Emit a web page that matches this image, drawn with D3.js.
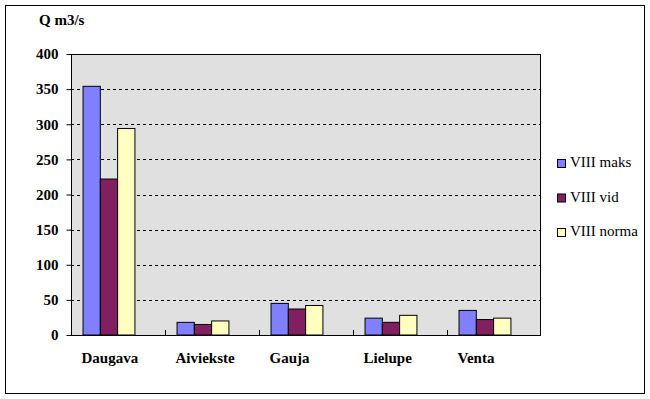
<!DOCTYPE html>
<html>
<head>
<meta charset="utf-8">
<script src="https://cdn.jsdelivr.net/npm/d3@7"></script>
<style>
  body { margin: 0; background: #fff; }
</style>
</head>
<body>
<div class="chart"></div>
<script>
const categories = ['Daugava', 'Aiviekste', 'Gauja', 'Lielupe', 'Venta'];
const seriesNames = ['VIII maks', 'VIII vid', 'VIII norma'];
const maksValues = [354, 18, 45, 24, 35];
const vidValues = [222, 15, 37, 18, 22];
const normaValues = [294, 20, 42, 28, 24];
const yTicks = [0, 50, 100, 150, 200, 250, 300, 350, 400];
const colors = ['#8080ff', '#802060', '#ffffc0'];

const seriesValues = [maksValues, vidValues, normaValues];
const font = "'Liberation Serif', 'Times New Roman', Times, serif";

const w = 650;
const h = 399;
const plot = { left: 71, right: 541, top: 54, bottom: 335 };

const svg = d3.select('.chart')
  .append('svg')
  .attr('width', w)
  .attr('height', h)
  .attr('font-family', font);

// outer frame
svg.append('rect')
  .attr('x', 5.5)
  .attr('y', 5.5)
  .attr('width', 639)
  .attr('height', 388)
  .attr('fill', '#fff')
  .attr('stroke', '#000');

const xScale = d3.scaleBand()
  .domain(categories)
  .range([plot.left, plot.right]);

const xInner = d3.scaleBand()
  .domain(seriesNames)
  .range([xScale.bandwidth() * 0.128, xScale.bandwidth() * 0.68]);

const yScale = d3.scaleLinear()
  .domain([0, 400])
  .range([plot.bottom, plot.top]);

// plot background
svg.append('rect')
  .attr('x', plot.left)
  .attr('y', plot.top)
  .attr('width', plot.right - plot.left)
  .attr('height', plot.bottom - plot.top)
  .attr('fill', '#e0e0e0');

// dashed gridlines
svg.append('g')
  .selectAll('line')
  .data(yTicks.filter((d) => d > 0 && d < 400))
  .enter()
  .append('line')
  .attr('x1', plot.left)
  .attr('x2', plot.right)
  .attr('y1', (d) => Math.round(yScale(d)) + 0.5)
  .attr('y2', (d) => Math.round(yScale(d)) + 0.5)
  .attr('stroke', '#000')
  .attr('stroke-dasharray', '3,3');

// bars
const groups = svg.append('g')
  .selectAll('g')
  .data(categories)
  .enter()
  .append('g')
  .attr('transform', (d) => `translate(${xScale(d)}, 0)`);

groups.selectAll('rect')
  .data((d, i) => seriesNames.map((s, j) => ({ series: s, value: seriesValues[j][i], color: colors[j] })))
  .enter()
  .append('rect')
  .attr('x', (d) => xInner(d.series))
  .attr('y', (d) => yScale(d.value))
  .attr('width', xInner.bandwidth())
  .attr('height', (d) => plot.bottom - yScale(d.value))
  .attr('fill', (d) => d.color)
  .attr('stroke', '#000')
  .attr('stroke-width', 1);

// plot border
svg.append('rect')
  .attr('x', plot.left + 0.5)
  .attr('y', plot.top + 0.5)
  .attr('width', plot.right - plot.left - 1)
  .attr('height', plot.bottom - plot.top)
  .attr('fill', 'none')
  .attr('stroke', '#000');

// y axis
const yAxis = svg.append('g')
  .attr('transform', `translate(${plot.left + 0.5}, 0)`)
  .call(d3.axisLeft(yScale).tickValues(yTicks).tickSize(5).tickPadding(8));
yAxis.attr('font-family', font).attr('font-size', 15).attr('font-weight', 'bold');
yAxis.select('.domain').remove();
yAxis.selectAll('text').attr('fill', '#000');

// x axis (ticks inside between categories)
svg.append('g')
  .selectAll('line')
  .data(categories.slice(1))
  .enter()
  .append('line')
  .attr('x1', (d) => Math.round(xScale(d)) + 0.5)
  .attr('x2', (d) => Math.round(xScale(d)) + 0.5)
  .attr('y1', plot.bottom)
  .attr('y2', plot.bottom - 5)
  .attr('stroke', '#000');

svg.append('g')
  .selectAll('text')
  .data(categories)
  .enter()
  .append('text')
  .attr('x', (d) => xScale(d) + 10.5)
  .attr('y', 363)
  .attr('font-size', 15)
  .attr('font-weight', 'bold')
  .text((d) => d);

// axis title
svg.append('text')
  .attr('x', 39)
  .attr('y', 25)
  .attr('font-size', 15)
  .attr('font-weight', 'bold')
  .text('Q m3/s');

// legend
const legend = svg.append('g')
  .attr('transform', 'translate(557, 159)');

legend.selectAll('rect')
  .data(seriesNames)
  .enter()
  .append('rect')
  .attr('x', 0.5)
  .attr('y', (d, i) => i * 34.5 + 0.5)
  .attr('width', 8)
  .attr('height', 8)
  .attr('fill', (d, i) => colors[i])
  .attr('stroke', '#000');

legend.selectAll('text')
  .data(seriesNames)
  .enter()
  .append('text')
  .attr('x', 13)
  .attr('y', (d, i) => i * 34.5 + 8)
  .attr('font-size', 15)
  .text((d) => d);
</script>
</body>
</html>
